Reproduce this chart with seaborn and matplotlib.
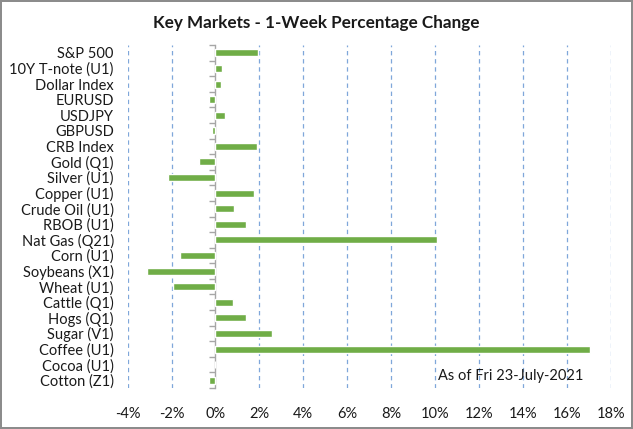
import matplotlib
matplotlib.use('Agg')
import matplotlib.pyplot as plt
import matplotlib.ticker as mticker
import seaborn as sns
import pandas as pd

# 1-week % change
markets = ['S&P 500', '10Y T-note (U1)', 'Dollar Index', 'EURUSD', 'USDJPY', 'GBPUSD',
           'CRB Index', 'Gold (Q1)', 'Silver (U1)', 'Copper (U1)', 'Crude Oil (U1)',
           'RBOB (U1)', 'Nat Gas (Q21)', 'Corn (U1)', 'Soybeans (X1)', 'Wheat (U1)',
           'Cattle (Q1)', 'Hogs (Q1)', 'Sugar (V1)', 'Coffee (U1)', 'Cocoa (U1)', 'Cotton (Z1)']
pct_change = [1.94, 0.28, 0.24, -0.30, 0.43, -0.16,
              1.89, -0.75, -2.16, 1.75, 0.84,
              1.39, 10.10, -1.61, -3.11, -1.93,
              0.80, 1.39, 2.57, 17.07, 0.0, -0.30]
x_ticks = [-4, -2, 0, 2, 4, 6, 8, 10, 12, 14, 16, 18]
as_of = 'As of Fri 23-July-2021'

df = pd.DataFrame({'market': markets, 'pct': pct_change})

sns.set_style('white')
plt.rcParams['font.family'] = ['Lato', 'DejaVu Sans']

fig = plt.figure(figsize=(6.33, 4.29), dpi=100)
ax = fig.add_axes([0.2017, 0.0956, 0.763, 0.7994])

sns.barplot(data=df, x='pct', y='market', orient='h', color='#70AD47',
            width=0.45, saturation=1, ax=ax)

ax.set_xlim(-4, 18)
ax.set_ylim(len(markets) - 0.5, -0.5)
ax.set_xticks(x_ticks)
ax.xaxis.set_major_formatter(mticker.FuncFormatter(lambda v, p: f'{v:.0f}%'))
ax.tick_params(axis='x', length=0, pad=14, labelsize=10.5, labelcolor='#1a1a1a')
ax.tick_params(axis='y', length=0, pad=10, labelsize=10.5, labelcolor='#1a1a1a')
ax.set_xlabel('')
ax.set_ylabel('')

# dashed vertical gridlines, except at zero
for t in x_ticks:
    if t != 0:
        ax.axvline(t, color='#7FA7DA', linestyle=(0, (3.5, 3)), linewidth=0.9, zorder=0)

for s in ax.spines.values():
    s.set_visible(False)

# category axis sitting on 0% with ticks between categories
zero_ax = ax.secondary_yaxis(4 / 22)
zero_ax.set_yticks([i - 0.5 for i in range(len(markets) + 1)])
zero_ax.set_yticklabels([])
zero_ax.tick_params(length=4, color='#A6A6A6', width=1)
zero_ax.spines['left'].set_color('#A6A6A6')
zero_ax.spines['left'].set_linewidth(1)

ax.text(0.943, 0.015, as_of, transform=ax.transAxes, ha='right', va='bottom',
        fontsize=10.5, color='#1a1a1a')

fig.text(0.5, 0.947, 'Key Markets - 1-Week Percentage Change', ha='center', va='center',
         fontsize=12.3, fontweight='bold', color='#1a1a1a')

# chart border
fig.patch.set_edgecolor('#8c8c8c')
fig.patch.set_linewidth(1.5)

fig.savefig('out.png', dpi=100, edgecolor=fig.get_edgecolor())
